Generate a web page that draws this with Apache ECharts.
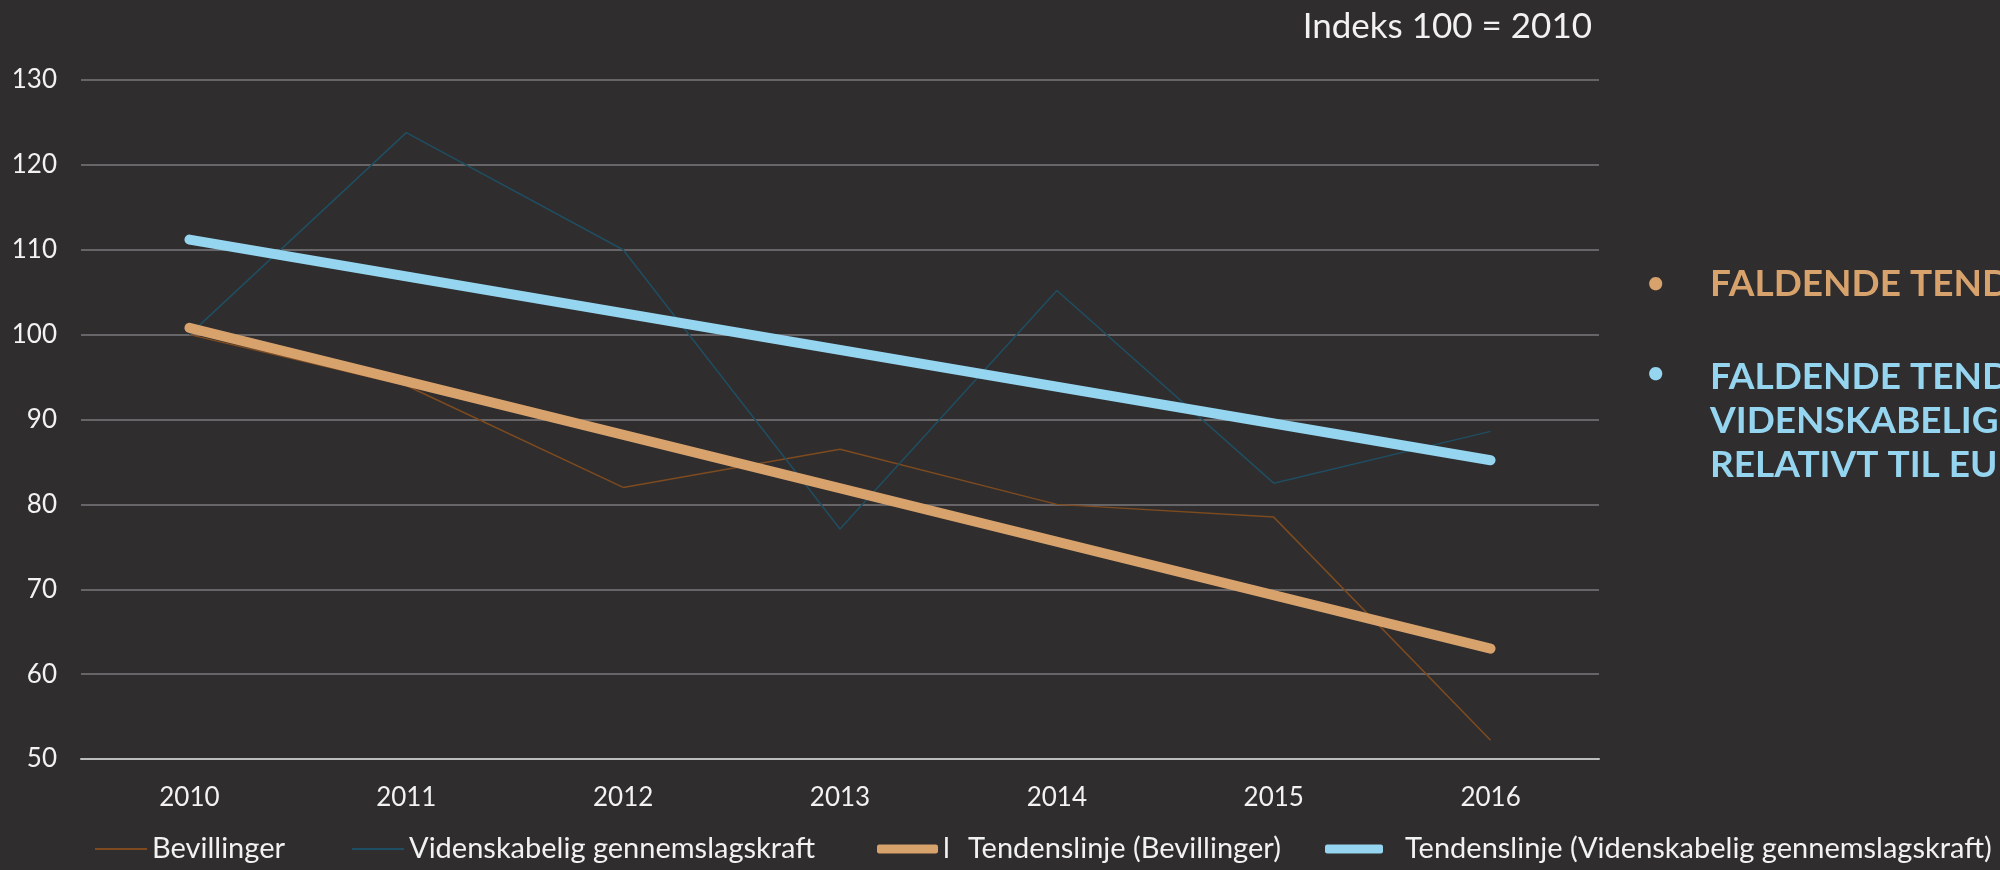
<!DOCTYPE html>
<html>
<head>
<meta charset="utf-8">
<title>Bevillinger og videnskabelig gennemslagskraft</title>
<script src="https://cdn.jsdelivr.net/npm/echarts@6/dist/echarts.min.js"></script>
<style>
  html, body { margin: 0; padding: 0; background: #2f2d2e; }
  #lineChart { width: 2000px; height: 870px; }
</style>
</head>
<body>
<div id="lineChart"></div>
<script>
// data (index 100 = 2010)
var years = ['2010', '2011', '2012', '2013', '2014', '2015', '2016'];
var bevillinger = [100, 94, 82, 86.5, 80, 78.5, 52.2];
var gennemslag = [100, 123.8, 110, 77.1, 105.2, 82.5, 88.6];
// trend lines: only the two end points, the line joins them
var trendBevillinger = [100.8, null, null, null, null, null, 63.0];
var trendGennemslag = [111.2, null, null, null, null, null, 85.2];
var yTicks = { min: 50, max: 130, interval: 10 };

var fontName = 'Lato';
var textColor = '#f2f2f2';
var orange = '#d8a26d';
var lightBlue = '#95d5f0';
var legendFont = 29;

var myChart = echarts.init(document.getElementById('lineChart'));

function legendAt(left, name, extra) {
    var leg = {
        show: true,
        left: left,
        top: 832,
        padding: 0,
        data: [name],
        selectedMode: false,
        icon: 'rect',
        itemWidth: 52,
        itemHeight: 2,
        textStyle: { color: textColor, fontFamily: fontName, fontSize: legendFont, lineHeight: 34 }
    };
    for (var k in extra) { leg[k] = extra[k]; }
    return leg;
}

var option = {
    backgroundColor: '#2f2d2e',
    animation: false,
    title: {
        text: 'Indeks 100 = 2010',
        right: 403,
        top: 4,
        textStyle: { color: textColor, fontFamily: fontName, fontWeight: 'normal', fontSize: 35 }
    },
    legend: [
        legendAt(95, 'Bevillinger'),
        legendAt(352, 'Videnskabelig gennemslagskraft'),
        legendAt(877, 'Tendenslinje (Bevillinger)', {
            icon: 'roundRect', itemWidth: 61, itemHeight: 9,
            formatter: function (name) { return '{a|l}{b|' + name + '}'; },
            textStyle: {
                color: textColor, fontFamily: fontName, fontSize: legendFont, lineHeight: 34,
                rich: {
                    a: { width: 25, color: textColor, fontFamily: fontName, fontSize: legendFont },
                    b: { color: textColor, fontFamily: fontName, fontSize: legendFont }
                }
            }
        }),
        legendAt(1325, 'Tendenslinje (Videnskabelig gennemslagskraft)', {
            icon: 'roundRect', itemWidth: 58, itemHeight: 9,
            textStyle: { color: textColor, fontFamily: fontName, fontSize: legendFont, lineHeight: 34, padding: [0, 0, 0, 17] }
        })
    ],
    grid: { left: 81, right: 401, top: 80, bottom: 111, containLabel: false },
    xAxis: {
        type: 'category',
        boundaryGap: true,
        data: years,
        axisTick: { show: false },
        axisLine: { show: true, lineStyle: { color: '#bdbdbd', width: 2 } },
        axisLabel: { color: textColor, fontFamily: fontName, fontSize: 26, margin: 26 }
    },
    yAxis: {
        type: 'value',
        min: yTicks.min,
        max: yTicks.max,
        interval: yTicks.interval,
        axisLine: { show: false },
        axisTick: { show: false },
        axisLabel: { color: textColor, fontFamily: fontName, fontSize: 26, margin: 24 },
        splitLine: { lineStyle: { color: '#676567', width: 2 } }
    },
    series: [
        {
            name: 'Bevillinger',
            type: 'line',
            data: bevillinger,
            symbol: 'none',
            lineStyle: { color: '#7d4b1f', width: 1.5 },
            itemStyle: { color: '#7d4b1f' }
        },
        {
            name: 'Videnskabelig gennemslagskraft',
            type: 'line',
            data: gennemslag,
            symbol: 'none',
            lineStyle: { color: '#1f4e62', width: 1.5 },
            itemStyle: { color: '#1f4e62' }
        },
        {
            name: 'Tendenslinje (Bevillinger)',
            type: 'line',
            data: trendBevillinger,
            connectNulls: true,
            symbol: 'none',
            lineStyle: { color: orange, width: 10, cap: 'round' },
            itemStyle: { color: orange }
        },
        {
            name: 'Tendenslinje (Videnskabelig gennemslagskraft)',
            type: 'line',
            data: trendGennemslag,
            connectNulls: true,
            symbol: 'none',
            lineStyle: { color: lightBlue, width: 10, cap: 'round' },
            itemStyle: { color: lightBlue }
        }
    ],
    graphic: [
        { type: 'text', x: 1647, y: 268, style: { text: '•', fill: orange, font: 'bold 30px Lato' } },
        { type: 'text', x: 1710, y: 266, style: { text: 'FALDENDE TENDENS I BEVILLINGER', fill: orange, font: 'bold 37px Lato' } },
        { type: 'text', x: 1647, y: 358, style: { text: '•', fill: lightBlue, font: 'bold 30px Lato' } },
        { type: 'text', x: 1710, y: 355, style: {
            text: 'FALDENDE TENDENS I\nVIDENSKABELIG GENNEMSLAGSKRAFT\nRELATIVT TIL EU',
            fill: lightBlue, font: 'bold 37px Lato', lineHeight: 44 } }
    ]
};

myChart.setOption(option);
</script>
</body>
</html>
